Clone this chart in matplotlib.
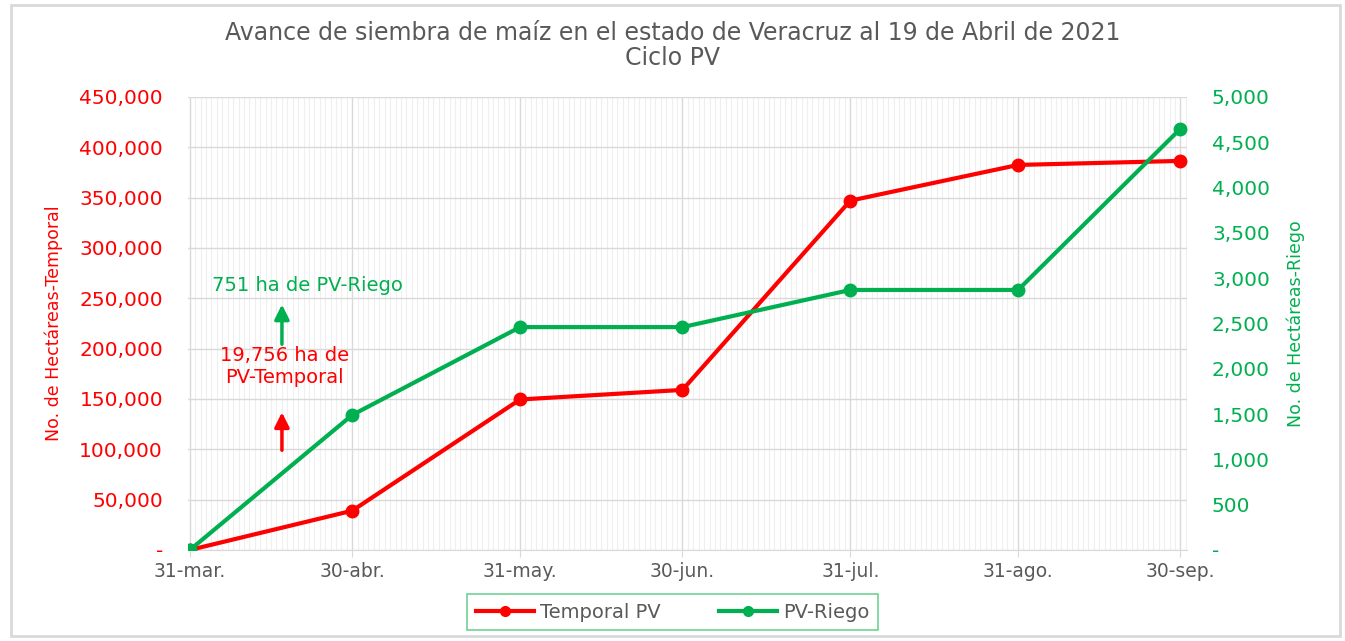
import matplotlib
matplotlib.use('Agg')
import matplotlib.pyplot as plt
import matplotlib.dates as mdates
from matplotlib.patches import Rectangle
from matplotlib.ticker import FuncFormatter
import pandas as pd

# datos
fechas = pd.to_datetime(['2021-03-31', '2021-04-30', '2021-05-31', '2021-06-30',
                         '2021-07-31', '2021-08-31', '2021-09-30'])
etiquetas = ['31-mar.', '30-abr.', '31-may.', '30-jun.', '31-jul.', '31-ago.', '30-sep.']
temporal = [0, 39000, 149500, 159000, 347000, 382500, 386500]
riego = [0, 1490, 2460, 2460, 2870, 2870, 4650]

ROJO = '#FF0000'
VERDE = '#00B050'
GRIS = '#595959'

plt.rcParams['font.family'] = 'DejaVu Sans'

fig = plt.figure(figsize=(13.45, 6.41), dpi=100)
fig.patches.append(Rectangle((0.008, 0.008), 0.988, 0.984, transform=fig.transFigure,
                             fill=False, edgecolor='#d9d9d9', lw=2))

ax = fig.add_axes([0.1398, 0.142, 0.7427, 0.7067])
ax2 = ax.twinx()

ax.plot(fechas, temporal, color=ROJO, lw=3, marker='o', ms=9, label='Temporal PV', zorder=5)
ax2.plot(fechas, riego, color=VERDE, lw=3, marker='o', ms=9, label='PV-Riego', zorder=5)

ax.set_xlim(fechas[0] - pd.Timedelta(hours=8), fechas[-1] + pd.Timedelta(days=1.2))
ax.set_ylim(0, 450000)
ax2.set_ylim(0, 5000)
ax.set_yticks(range(0, 450001, 50000))
ax2.set_yticks(range(0, 5001, 500))

fmt = FuncFormatter(lambda v, p: '-' if v == 0 else f'{int(v):,}')
ax.yaxis.set_major_formatter(fmt)
ax2.yaxis.set_major_formatter(fmt)

ax.set_xticks(fechas)
ax.set_xticklabels(etiquetas)
ax.xaxis.set_minor_locator(mdates.DayLocator())

ax.grid(True, which='major', color='#d9d9d9', lw=1)
ax.grid(True, which='minor', axis='x', color='#efefef', lw=0.8)
ax.set_axisbelow(True)

for a in (ax, ax2):
    for s in a.spines.values():
        s.set_visible(False)
ax.spines['bottom'].set_visible(True)
ax.spines['bottom'].set_color('#d9d9d9')

ax.tick_params(axis='y', colors=ROJO, labelsize=14.5, length=0, pad=18)
ax2.tick_params(axis='y', colors=VERDE, labelsize=14.5, length=0, pad=18)
ax.tick_params(axis='x', which='major', colors='#d9d9d9', labelcolor=GRIS, labelsize=13.5, length=5)
ax.tick_params(axis='x', which='minor', length=0)

ax.set_ylabel('No. de Hectáreas-Temporal', color=ROJO, fontsize=12.5, labelpad=12)
ax2.set_ylabel('No. de Hectáreas-Riego', color=VERDE, fontsize=12.5, labelpad=12)

fig.text(0.5, 0.948, 'Avance de siembra de maíz en el estado de Veracruz al 19 de Abril de 2021',
         ha='center', va='center', color=GRIS, fontsize=17)
fig.text(0.5, 0.909, 'Ciclo PV', ha='center', va='center', color=GRIS, fontsize=17)

# anotaciones
ax.text(0.12, 0.583, '751 ha de PV-Riego', transform=ax.transAxes, color=VERDE,
        fontsize=14, ha='center', va='center')
ax.annotate('', xy=(0.094, 0.548), xytext=(0.094, 0.448), xycoords='axes fraction',
            arrowprops=dict(arrowstyle='-|>', color=VERDE, lw=2.5, mutation_scale=22))
ax.text(0.097, 0.406, '19,756 ha de\nPV-Temporal', transform=ax.transAxes, color=ROJO,
        fontsize=14, ha='center', va='center', linespacing=1.2)
ax.annotate('', xy=(0.094, 0.31), xytext=(0.094, 0.214), xycoords='axes fraction',
            arrowprops=dict(arrowstyle='-|>', color=ROJO, lw=2.5, mutation_scale=22))

h1, l1 = ax.get_legend_handles_labels()
h2, l2 = ax2.get_legend_handles_labels()
leg = fig.legend(h1 + h2, l1 + l2, loc='center', bbox_to_anchor=(0.5, 0.045), ncol=2,
                 fontsize=14, frameon=True, fancybox=False, handlelength=3,
                 columnspacing=3, borderpad=0.45, handletextpad=0.3)
leg.get_frame().set_edgecolor('#4CC77A')
leg.get_frame().set_linewidth(1.2)
for t in leg.get_texts():
    t.set_color(GRIS)
for line in leg.get_lines():
    line.set_markersize(7)

fig.savefig('out.png', dpi=100)
